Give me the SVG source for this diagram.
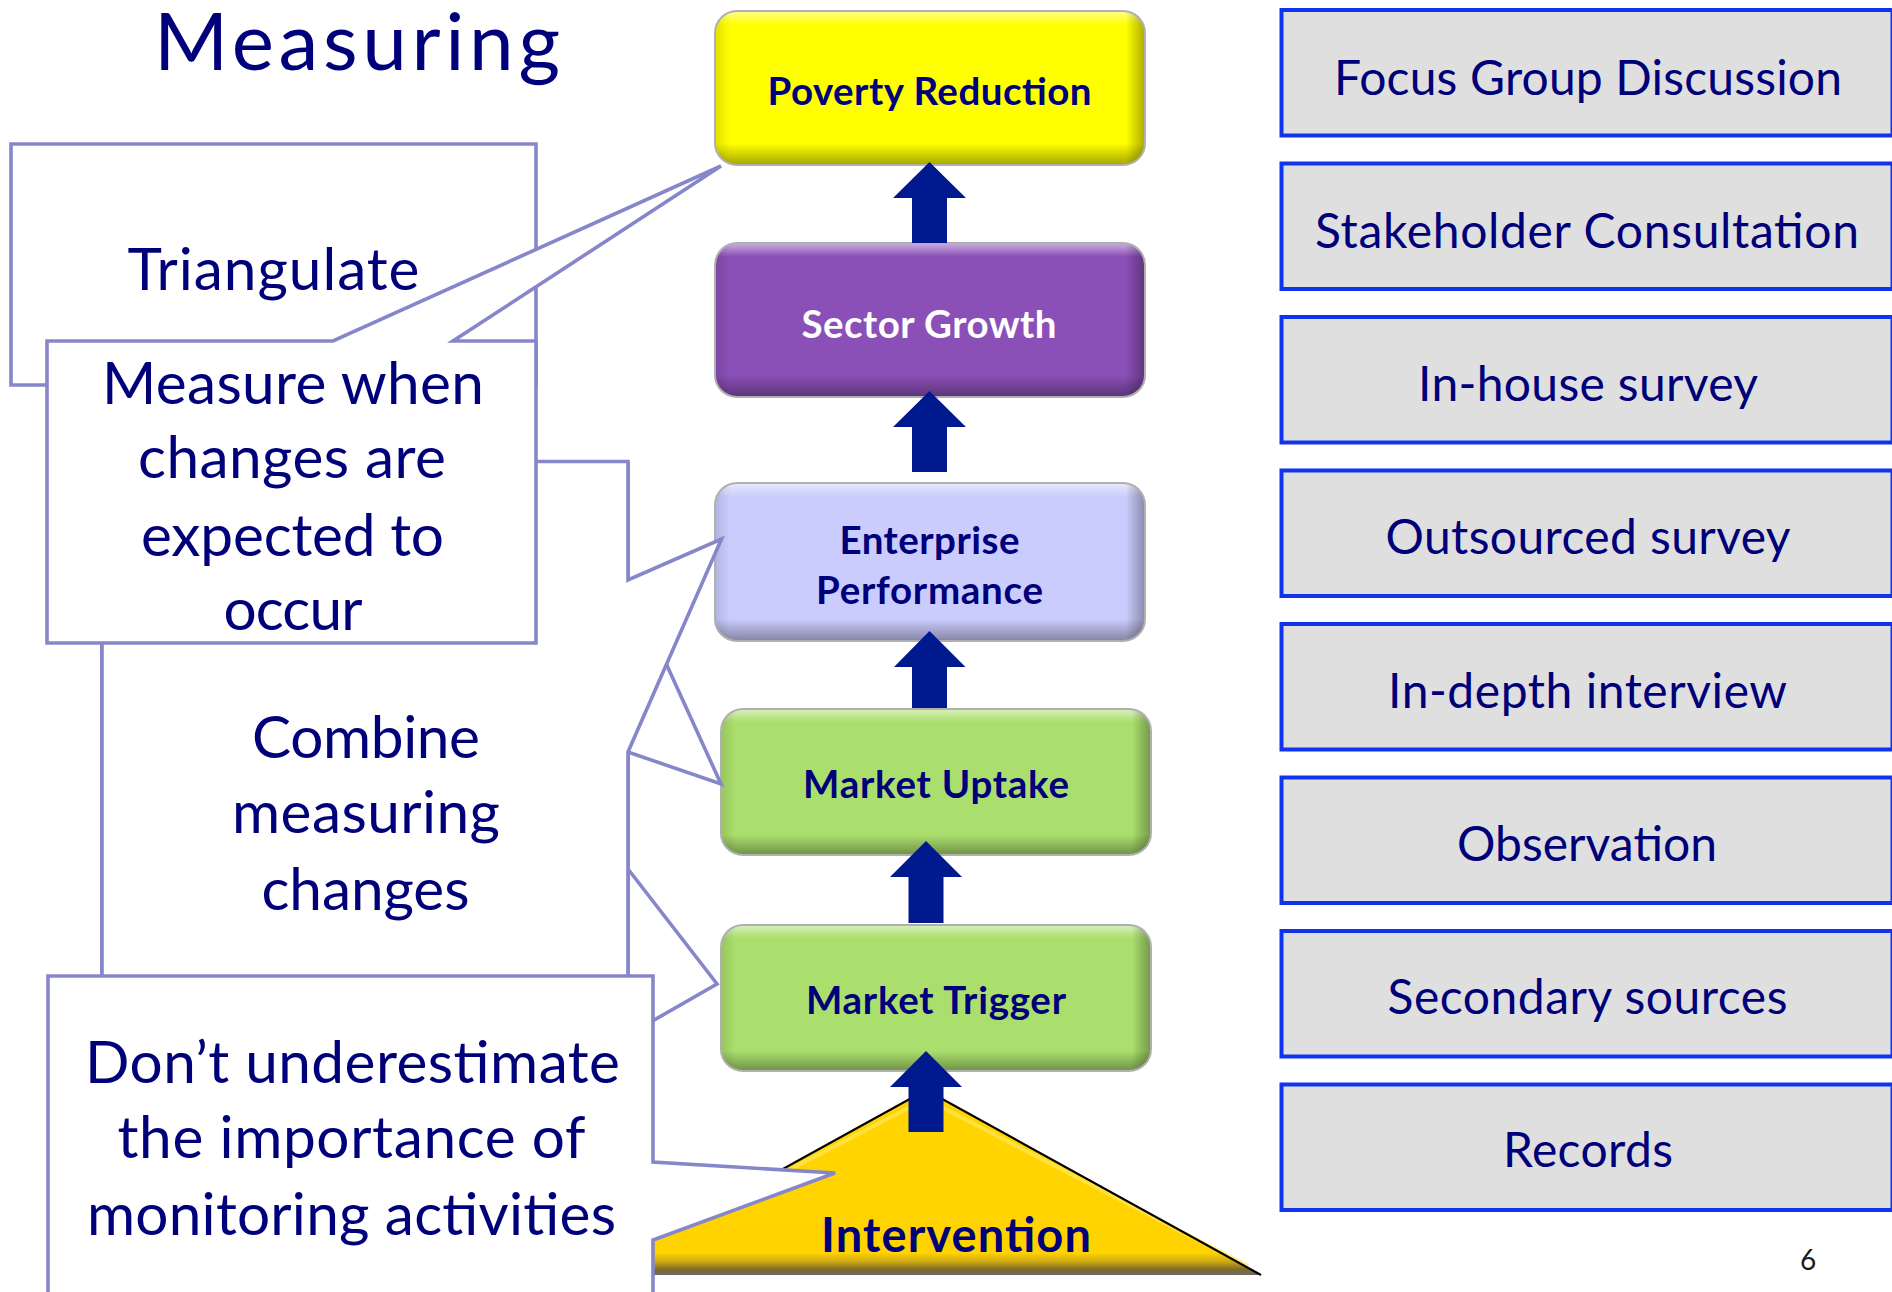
<svg xmlns="http://www.w3.org/2000/svg" width="1892" height="1292" viewBox="0 0 1892 1292">
<defs>
<style>
.txt{font-family:Lato,"Liberation Sans",sans-serif;fill:#00007A;text-anchor:middle}
.title{font-size:80px}
.ct{font-size:58.5px}
.rt{font-size:48px}
.nt{font-size:38.5px;font-weight:700}
.callout{fill:#fff;stroke:#8686CA;stroke-width:3.6;stroke-linejoin:miter}
.rbox{fill:#DFDFDF;stroke:#1034EE;stroke-width:4}
.nbox{stroke:none}
.nborder{fill:none;stroke:#B0B0B0;stroke-width:2}
.arrow{fill:#00198F}
</style>
<linearGradient id="vshade" x1="0" y1="0" x2="0" y2="1">
<stop offset="0" stop-color="#fff" stop-opacity="0.55"/>
<stop offset="0.09" stop-color="#fff" stop-opacity="0"/>
<stop offset="0.86" stop-color="#000" stop-opacity="0"/>
<stop offset="1" stop-color="#000" stop-opacity="0.35"/>
</linearGradient>
<linearGradient id="hshade" x1="0" y1="0" x2="1" y2="0">
<stop offset="0" stop-color="#000" stop-opacity="0.12"/>
<stop offset="0.035" stop-color="#000" stop-opacity="0"/>
<stop offset="0.955" stop-color="#000" stop-opacity="0"/>
<stop offset="1" stop-color="#000" stop-opacity="0.32"/>
</linearGradient>
<linearGradient id="tri" x1="0" y1="0" x2="0" y2="1">
<stop offset="0" stop-color="#FFD500"/>
<stop offset="0.88" stop-color="#FFD300"/>
<stop offset="0.93" stop-color="#C9A612"/>
<stop offset="0.97" stop-color="#7E6A28"/>
<stop offset="1" stop-color="#6A6A6A"/>
</linearGradient>
</defs>
<rect width="1892" height="1292" fill="#fff"/>

<text class="txt title" x="357" y="70" textLength="406">Measuring</text>

<g id="right-methods">
<g id="m1"><rect class="rbox" x="1281.5" y="10" width="611" height="125.5"/><text class="txt rt" x="1588" y="94.5" textLength="508">Focus Group Discussion</text></g>
<g id="m2"><rect class="rbox" x="1281.5" y="163.5" width="611" height="125.5"/><text class="txt rt" x="1587" y="248" textLength="544">Stakeholder Consultation</text></g>
<g id="m3"><rect class="rbox" x="1281.5" y="317" width="611" height="125.5"/><text class="txt rt" x="1588" y="401" textLength="340">In-house survey</text></g>
<g id="m4"><rect class="rbox" x="1281.5" y="470.5" width="611" height="125.5"/><text class="txt rt" x="1588" y="554" textLength="405">Outsourced survey</text></g>
<g id="m5"><rect class="rbox" x="1281.5" y="624" width="611" height="125.5"/><text class="txt rt" x="1587.5" y="707.5" textLength="399">In-depth interview</text></g>
<g id="m6"><rect class="rbox" x="1281.5" y="777.5" width="611" height="125.5"/><text class="txt rt" x="1587" y="860.5" textLength="260">Observation</text></g>
<g id="m7"><rect class="rbox" x="1281.5" y="931" width="611" height="125.5"/><text class="txt rt" x="1587.5" y="1013.5" textLength="400">Secondary sources</text></g>
<g id="m8"><rect class="rbox" x="1281.5" y="1084.5" width="611" height="125.5"/><text class="txt rt" x="1588" y="1167" textLength="170">Records</text></g>
</g>

<text x="1800" y="1270" font-family="Lato,'Liberation Sans',sans-serif" font-size="28" fill="#1a1a1a">6</text>

<g id="intervention">
<polygon points="591,1275 926,1090 1261,1275" fill="url(#tri)"/>
<polyline points="604,1266 926,1099 1248,1266" fill="none" stroke="#FFE75A" stroke-width="4" stroke-opacity="0.7"/>
<polyline points="591,1275 926,1090 1261,1275" fill="none" stroke="#000" stroke-width="2.2" stroke-linejoin="miter"/>
<text class="txt nt" x="956" y="1252" style="font-size:47px" textLength="270">Intervention</text>
</g>

<g id="nodes">
<g id="poverty">
<rect class="nbox" x="715" y="11" width="430" height="154" rx="22" fill="#FFFF00"/>
<rect x="715" y="11" width="430" height="154" rx="22" fill="url(#vshade)"/>
<rect x="715" y="11" width="430" height="154" rx="22" fill="url(#hshade)"/>
<rect class="nborder" x="715" y="11" width="430" height="154" rx="22"/>
<text class="txt nt" x="929.5" y="104.5" textLength="324">Poverty Reduction</text>
</g>
<g id="sector">
<rect class="nbox" x="715" y="243" width="430" height="154" rx="22" fill="#8B4FB8"/>
<rect x="715" y="243" width="430" height="154" rx="22" fill="url(#vshade)"/>
<rect x="715" y="243" width="430" height="154" rx="22" fill="url(#hshade)"/>
<rect class="nborder" x="715" y="243" width="430" height="154" rx="22"/>
<text class="txt nt" x="929" y="338" textLength="255" style="fill:#fff">Sector Growth</text>
</g>
<g id="enterprise">
<rect class="nbox" x="715" y="483" width="430" height="158" rx="22" fill="#CACCFD"/>
<rect x="715" y="483" width="430" height="158" rx="22" fill="url(#vshade)"/>
<rect x="715" y="483" width="430" height="158" rx="22" fill="url(#hshade)"/>
<rect class="nborder" x="715" y="483" width="430" height="158" rx="22"/>
<text class="txt nt" x="929.5" y="553.5" textLength="180">Enterprise</text>
<text class="txt nt" x="929.5" y="603.5" textLength="227">Performance</text>
</g>
<g id="uptake">
<rect class="nbox" x="721" y="709" width="430" height="146" rx="22" fill="#ABDF6D"/>
<rect x="721" y="709" width="430" height="146" rx="22" fill="url(#vshade)"/>
<rect x="721" y="709" width="430" height="146" rx="22" fill="url(#hshade)"/>
<rect class="nborder" x="721" y="709" width="430" height="146" rx="22"/>
<text class="txt nt" x="936" y="797.5" textLength="266">Market Uptake</text>
</g>
<g id="trigger">
<rect class="nbox" x="721" y="925" width="430" height="146" rx="22" fill="#ABDF6D"/>
<rect x="721" y="925" width="430" height="146" rx="22" fill="url(#vshade)"/>
<rect x="721" y="925" width="430" height="146" rx="22" fill="url(#hshade)"/>
<rect class="nborder" x="721" y="925" width="430" height="146" rx="22"/>
<text class="txt nt" x="936" y="1013.5" textLength="260">Market Trigger</text>
</g>
</g>

<g id="connectors">
<polygon class="arrow" points="929.5,162 966,198 947,198 947,243 912,243 912,198 893,198"/>
<polygon class="arrow" points="929.5,391 966,427 947,427 947,472 912,472 912,427 893,427"/>
<polygon class="arrow" points="929.5,631 965.5,667 947,667 947,708 912,708 912,667 894,667"/>
<polygon class="arrow" points="926,841 962,877 943.5,877 943.5,923 908.5,923 908.5,877 890,877"/>
<polygon class="arrow" points="926,1051 962,1087 943.5,1087 943.5,1132 908.5,1132 908.5,1087 890,1087"/>
</g>

<g id="callouts">
<g id="triangulate">
<path class="callout" d="M11,144 H536 V385 H11 Z"/>
<text class="txt ct" x="273.5" y="290" textLength="292">Triangulate</text>
</g>
<g id="callout-trigger">
<path class="callout" d="M102,464.5 H628 V869 L717,984 L628,1035 V1110 H102 Z"/>
</g>
<g id="callout-uptake">
<path class="callout" d="M102,464.5 H628 V580 L721,784 L628,752 V1110 H102 Z"/>
</g>
<g id="combine">
<path class="callout" d="M102,461.5 H628 V580 L721.5,539 L628,752 V1110 H102 Z"/>
<text class="txt ct" x="366" y="758" textLength="228">Combine</text>
<text class="txt ct" x="366" y="833" textLength="268">measuring</text>
<text class="txt ct" x="365.5" y="909.5" textLength="208">changes</text>
</g>
<g id="measure">
<path class="callout" d="M47,341 H333 L721,166 L453,341 H536 V643 H47 Z"/>
<text class="txt ct" x="293" y="404" textLength="382">Measure when</text>
<text class="txt ct" x="292" y="477.5" textLength="308">changes are</text>
<text class="txt ct" x="292.5" y="556" textLength="303">expected to</text>
<text class="txt ct" x="293" y="629.5" textLength="139">occur</text>
</g>
<g id="dont">
<path class="callout" d="M48,976 H653 V1162 L835,1173 L653,1240 V1300 H48 Z"/>
<text class="txt ct" x="352.5" y="1083" textLength="535">Don’t underestimate</text>
<text class="txt ct" x="351.5" y="1158" textLength="468">the importance of</text>
<text class="txt ct" x="351.5" y="1234.5" textLength="529">monitoring activities</text>
</g>
</g>
</svg>
